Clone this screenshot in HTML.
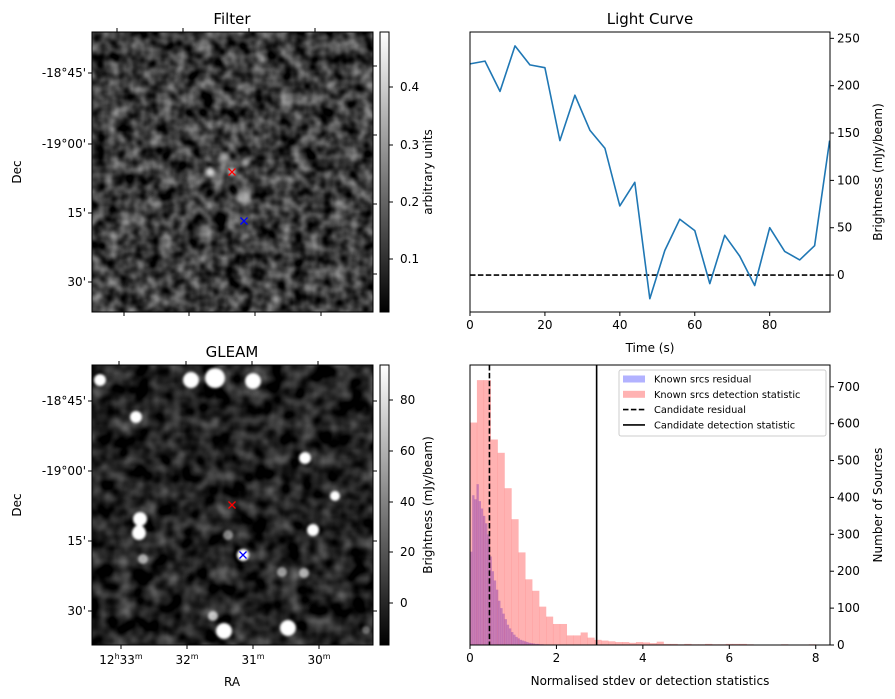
<!DOCTYPE html>
<html><head><meta charset="utf-8">
<style>
html,body{margin:0;padding:0;background:#fff;}
svg{display:block;font-family:"DejaVu Sans","Liberation Sans",sans-serif;}
</style></head>
<body>
<svg id="fig" width="895" height="699" viewBox="0 0 895 699" xmlns="http://www.w3.org/2000/svg">
<defs>
  <filter id="noiseF" x="0" y="0" width="100%" height="100%" color-interpolation-filters="sRGB">
    <feTurbulence type="fractalNoise" baseFrequency="0.075" numOctaves="2" seed="3"/>
    <feColorMatrix type="matrix" values="0.9 0 0 0 -0.22  0.9 0 0 0 -0.22  0.9 0 0 0 -0.22  0 0 0 0 1"/>
  </filter>
  <filter id="noiseG" x="0" y="0" width="100%" height="100%" color-interpolation-filters="sRGB">
    <feTurbulence type="fractalNoise" baseFrequency="0.06" numOctaves="2" seed="11"/>
    <feColorMatrix type="matrix" values="0.7 0 0 0 -0.22  0.7 0 0 0 -0.22  0.7 0 0 0 -0.22  0 0 0 0 1"/>
  </filter>
  <filter id="blur2"><feGaussianBlur stdDeviation="2"/></filter>
  <filter id="blur1"><feGaussianBlur stdDeviation="1.2"/></filter>
  <linearGradient id="cbar" x1="0" y1="1" x2="0" y2="0">
    <stop offset="0" stop-color="#000"/><stop offset="1" stop-color="#fff"/>
  </linearGradient>
  <clipPath id="clipF"><rect x="92" y="32" width="281" height="280"/></clipPath>
  <clipPath id="clipG"><rect x="92" y="365" width="281" height="280"/></clipPath>
</defs>

<!-- FILTER PANEL -->
<g>
  <text x="232" y="24" font-size="15" text-anchor="middle">Filter</text>
  <g clip-path="url(#clipF)">
    <rect x="92" y="32" width="281" height="280" fill="#000"/>
    <rect x="92" y="32" width="281" height="280" filter="url(#noiseF)"/>
    <g filter="url(#blur2)" fill="#fff">
      <circle cx="210" cy="172" r="5" opacity="0.85"/>
      <circle cx="224" cy="157" r="5" opacity="0.6"/>
      <circle cx="232" cy="172" r="4" opacity="0.8"/>
      <circle cx="243" cy="197" r="7" opacity="0.55"/>
      <circle cx="245" cy="162" r="4" opacity="0.5"/>
    </g>
  </g>
  <rect x="92" y="32" width="281" height="280" fill="none" stroke="#000" stroke-width="1"/>
  <g stroke="#000" stroke-width="1">
    <line x1="117" y1="32" x2="117" y2="28"/><line x1="183" y1="32" x2="183" y2="28"/><line x1="249" y1="32" x2="249" y2="28"/><line x1="315" y1="32" x2="315" y2="28"/>
    <line x1="124" y1="312" x2="124" y2="316"/><line x1="189" y1="312" x2="189" y2="316"/><line x1="255" y1="312" x2="255" y2="316"/><line x1="321" y1="312" x2="321" y2="316"/>
    <line x1="92" y1="73" x2="88" y2="73"/><line x1="92" y1="144" x2="88" y2="144"/><line x1="92" y1="213" x2="88" y2="213"/><line x1="92" y1="282" x2="88" y2="282"/>
    <line x1="373" y1="66" x2="377" y2="66"/><line x1="373" y1="135" x2="377" y2="135"/><line x1="373" y1="204" x2="377" y2="204"/><line x1="373" y1="274" x2="377" y2="274"/>
  </g>
  <g font-size="12" text-anchor="end">
    <text x="86" y="77">-18°45'</text><text x="86" y="148">-19°00'</text><text x="86" y="217">15'</text><text x="86" y="286">30'</text>
  </g>
  <text transform="translate(21,172) rotate(-90)" font-size="12" text-anchor="middle">Dec</text>
  <g stroke-width="1.3">
    <path d="M228.5,168.5 l7,7 M235.5,168.5 l-7,7" stroke="#f00"/>
    <path d="M240.5,217.5 l7,7 M247.5,217.5 l-7,7" stroke="#00f"/>
  </g>
  <g>
    <rect x="380" y="32" width="9" height="280" fill="url(#cbar)" stroke="#000" stroke-width="1"/>
    <g stroke="#000"><line x1="389" y1="87" x2="393" y2="87"/><line x1="389" y1="145" x2="393" y2="145"/><line x1="389" y1="202" x2="393" y2="202"/><line x1="389" y1="259" x2="393" y2="259"/></g>
    <g font-size="12"><text x="400" y="91">0.4</text><text x="400" y="149">0.3</text><text x="400" y="206">0.2</text><text x="400" y="263">0.1</text></g>
    <text transform="translate(432,172) rotate(-90)" font-size="12" text-anchor="middle">arbitrary units</text>
  </g>
</g>

<!-- GLEAM PANEL -->
<g>
  <text x="232" y="357" font-size="15" text-anchor="middle">GLEAM</text>
  <g clip-path="url(#clipG)">
    <rect x="92" y="365" width="281" height="280" fill="#000"/>
    <rect x="92" y="365" width="281" height="280" filter="url(#noiseG)"/>
    <g fill="#fff" filter="url(#blur1)">
      <circle cx="100" cy="380" r="6"/><circle cx="191" cy="380" r="8"/><circle cx="215" cy="378" r="10"/><circle cx="253" cy="381" r="8"/>
      <circle cx="136" cy="417" r="6"/><circle cx="305" cy="458" r="6"/><circle cx="335" cy="496" r="5"/>
      <circle cx="140" cy="519" r="7"/><circle cx="139" cy="533" r="7"/><circle cx="139" cy="531" r="6"/>
      <circle cx="313" cy="530" r="6"/><circle cx="243" cy="555" r="6"/><circle cx="224" cy="631" r="8"/><circle cx="288" cy="628" r="8"/>
      <circle cx="213" cy="616" r="5" opacity="0.7"/><circle cx="143" cy="559" r="5" opacity="0.6"/><circle cx="228" cy="535" r="5" opacity="0.5"/>
      <circle cx="282" cy="572" r="5" opacity="0.55"/><circle cx="304" cy="573" r="5" opacity="0.6"/><circle cx="366" cy="630" r="4" opacity="0.4"/>
    </g>
  </g>
  <rect x="92" y="365" width="281" height="280" fill="none" stroke="#000" stroke-width="1"/>
  <g stroke="#000" stroke-width="1">
    <line x1="119" y1="365" x2="119" y2="361"/><line x1="186" y1="365" x2="186" y2="361"/><line x1="252" y1="365" x2="252" y2="361"/><line x1="318" y1="365" x2="318" y2="361"/>
    <line x1="121" y1="645" x2="121" y2="649"/><line x1="187" y1="645" x2="187" y2="649"/><line x1="253" y1="645" x2="253" y2="649"/><line x1="319" y1="645" x2="319" y2="649"/>
    <line x1="92" y1="401" x2="88" y2="401"/><line x1="92" y1="471" x2="88" y2="471"/><line x1="92" y1="541" x2="88" y2="541"/><line x1="92" y1="611" x2="88" y2="611"/>
    <line x1="373" y1="401" x2="377" y2="401"/><line x1="373" y1="471" x2="377" y2="471"/><line x1="373" y1="541" x2="377" y2="541"/><line x1="373" y1="611" x2="377" y2="611"/>
  </g>
  <g font-size="12" text-anchor="end">
    <text x="86" y="405">-18°45'</text><text x="86" y="475">-19°00'</text><text x="86" y="545">15'</text><text x="86" y="615">30'</text>
  </g>
  <text transform="translate(21,505) rotate(-90)" font-size="12" text-anchor="middle">Dec</text>
  <g font-size="12" text-anchor="middle">
    <text x="121" y="664">12<tspan font-size="8" dy="-5">h</tspan><tspan dy="5">33</tspan><tspan font-size="8" dy="-5">m</tspan></text>
    <text x="187" y="664">32<tspan font-size="8" dy="-5">m</tspan></text>
    <text x="253" y="664">31<tspan font-size="8" dy="-5">m</tspan></text>
    <text x="319" y="664">30<tspan font-size="8" dy="-5">m</tspan></text>
  </g>
  <text x="232" y="686" font-size="12" text-anchor="middle">RA</text>
  <g stroke-width="1.3">
    <path d="M228.5,501.5 l7,7 M235.5,501.5 l-7,7" stroke="#f00"/>
    <path d="M239.5,551.5 l7,7 M246.5,551.5 l-7,7" stroke="#00f"/>
  </g>
  <g>
    <rect x="380" y="365" width="9" height="280" fill="url(#cbar)" stroke="#000" stroke-width="1"/>
    <g stroke="#000"><line x1="389" y1="400" x2="393" y2="400"/><line x1="389" y1="451" x2="393" y2="451"/><line x1="389" y1="502" x2="393" y2="502"/><line x1="389" y1="552" x2="393" y2="552"/><line x1="389" y1="603" x2="393" y2="603"/></g>
    <g font-size="12"><text x="400" y="404">80</text><text x="400" y="455">60</text><text x="400" y="506">40</text><text x="400" y="556">20</text><text x="400" y="607">0</text></g>
    <text transform="translate(432,505) rotate(-90)" font-size="12" text-anchor="middle">Brightness (mJy/beam)</text>
  </g>
</g>

<g id="lc"></g>
<g id="hist"></g>
</svg>

<script>
// ---- Light curve data ----
const lcTimes = [0,4,8,12,16,20,24,28,32,36,40,44,48,52,56,60,64,68,72,76,80,84,88,92,96];
const lcBrightness = [223,226,194,242,222,219,142,190,153,134,73,98,-25,26,59,47,-9,42,20,-11,50,25,16,31,142];
const lcYTicks = [0,50,100,150,200,250];
const lcXTicks = [0,20,40,60,80];

// ---- Histogram data ----
const redBinWidth = 0.16;
const redCounts = [603,718,718,557,521,425,341,251,178,147,104,77,57,57,26,26,34,20,14,12,10,8,8,6,8,7,5,9,3,3,2,3,2,2,3,2,2,3,3,3,2,0,0,0,0,2,1,0,0,2];
const blueBinWidth = 0.05;
const blueCounts = [253,406,395,436,390,370,350,330,300,240,200,175,150,120,100,85,70,55,45,35,28,22,18,14,12,10,8,6,5,4,3,3,2,2,1,1,1,1,1,0,1];
const candidateResidual = [0.45];
const candidateDetection = [2.93];
const histXTicks = [0,2,4,6,8];
const histYTicks = [0,100,200,300,400,500,600,700];

const NS = 'http://www.w3.org/2000/svg';
function mk(parent, tag, attrs, text){
  const e = document.createElementNS(NS, tag);
  for (const k in attrs) e.setAttribute(k, attrs[k]);
  if (text !== undefined) e.textContent = text;
  parent.appendChild(e);
  return e;
}

// ---- Light curve ----
(function(){
  const g = document.getElementById('lc');
  const L=470, R=830, T=32, B=312;
  const xmin=0, xmax=96.1, ymin=-39, ymax=256.7;
  const xs = v => L + (v-xmin)/(xmax-xmin)*(R-L);
  const ys = v => B - (v-ymin)/(ymax-ymin)*(B-T);
  const t = mk(g,'text',{x:650,y:24,'font-size':15,'text-anchor':'middle'},'Light Curve');
  
  
  const zero = mk(g,'line',{x1:L,x2:R,y1:ys(0),y2:ys(0),stroke:'#000','stroke-width':1.6,'stroke-dasharray':'5.5,2.4'});
  
  
  const pts = lcTimes.map((tt,i)=>xs(tt).toFixed(1)+','+ys(lcBrightness[i]).toFixed(1)).join(' ');
  const line = mk(g,'polyline',{points:pts,fill:'none',stroke:'#1f77b4','stroke-width':1.6,'stroke-linejoin':'round'});
  
  
  const fr = mk(g,'rect',{x:L,y:T,width:R-L,height:B-T,fill:'none',stroke:'#000','stroke-width':1});
  
  
  lcXTicks.forEach(v=>{
    mk(g,'line',{x1:xs(v),x2:xs(v),y1:B,y2:B+4,stroke:'#000'});
    const tl = mk(g,'text',{x:xs(v),y:B+17,'font-size':12,'text-anchor':'middle'},String(v));
    
    
  });
  lcYTicks.forEach(v=>{
    mk(g,'line',{x1:R,x2:R+4,y1:ys(v),y2:ys(v),stroke:'#000'});
    const tl = mk(g,'text',{x:R+7,y:ys(v)+4,'font-size':12},String(v));
    
    
  });
  const xl = mk(g,'text',{x:650,y:352,'font-size':12,'text-anchor':'middle'},'Time (s)');
  
  
  const yl = mk(g,'text',{transform:'translate(882,172) rotate(-90)','font-size':12,'text-anchor':'middle'},'Brightness (mJy/beam)');
  
  
})();

// ---- Histogram ----
(function(){
  const g = document.getElementById('hist');
  const L=470, R=830, T=365, B=645;
  const xmin=0, xmax=8.33, ymin=0, ymax=759;
  const xs = v => L + (v-xmin)/(xmax-xmin)*(R-L);
  const ys = v => B - (v-ymin)/(ymax-ymin)*(B-T);
  blueCounts.forEach((c,i)=>{
    if(!c) return;
    const r = mk(g,'rect',{x:xs(i*blueBinWidth),y:ys(c),width:xs((i+1)*blueBinWidth)-xs(i*blueBinWidth)+0.2,height:B-ys(c),fill:'#0000ff','fill-opacity':0.3});
    
    
  });
  redCounts.forEach((c,i)=>{
    if(!c) return;
    const r = mk(g,'rect',{x:xs(i*redBinWidth),y:ys(c),width:xs((i+1)*redBinWidth)-xs(i*redBinWidth)+0.2,height:B-ys(c),fill:'#ff0000','fill-opacity':0.3});
    
    
  });
  candidateResidual.forEach(v=>{
    const l = mk(g,'line',{x1:xs(v),x2:xs(v),y1:T,y2:B,stroke:'#000','stroke-width':1.6,'stroke-dasharray':'5.5,2.4'});
    
    
  });
  candidateDetection.forEach(v=>{
    const l = mk(g,'line',{x1:xs(v),x2:xs(v),y1:T,y2:B,stroke:'#000','stroke-width':1.6});
    
    
  });
  const fr = mk(g,'rect',{x:L,y:T,width:R-L,height:B-T,fill:'none',stroke:'#000','stroke-width':1});
  
  
  histXTicks.forEach(v=>{
    mk(g,'line',{x1:xs(v),x2:xs(v),y1:B,y2:B+4,stroke:'#000'});
    const tl = mk(g,'text',{x:xs(v),y:B+17,'font-size':12,'text-anchor':'middle'},String(v));
    
    
  });
  histYTicks.forEach(v=>{
    mk(g,'line',{x1:R,x2:R+4,y1:ys(v),y2:ys(v),stroke:'#000'});
    const tl = mk(g,'text',{x:R+7,y:ys(v)+4,'font-size':12},String(v));
    
    
  });
  const xl = mk(g,'text',{x:650,y:685,'font-size':12,'text-anchor':'middle'},'Normalised stdev or detection statistics');
  
  
  const yl = mk(g,'text',{transform:'translate(882,505) rotate(-90)','font-size':12,'text-anchor':'middle'},'Number of Sources');
  
  
  // legend
  const lg = mk(g,'g',{});
  
  
  mk(lg,'rect',{x:619,y:370,width:207,height:66,rx:2,fill:'#fff','fill-opacity':0.8,stroke:'#ccc'});
  const items = [
    ['Known srcs residual','patch','#0000ff'],
    ['Known srcs detection statistic','patch','#ff0000'],
    ['Candidate residual','dash',''],
    ['Candidate detection statistic','solid','']
  ];
  items.forEach((it,i)=>{
    const y = 379 + i*15.3;
    const e = mk(lg,'g',{});
    
    
    if(it[1]==='patch') mk(e,'rect',{x:623,y:y-3.5,width:22,height:7,fill:it[2],'fill-opacity':0.3});
    else mk(e,'line',{x1:623,x2:645,y1:y,y2:y,stroke:'#000','stroke-width':1.6,'stroke-dasharray':it[1]==='dash'?'5.5,2.4':'none'});
    mk(e,'text',{x:654,y:y+3.5,'font-size':9.8},it[0]);
  });
})();
</script>
</body></html>
